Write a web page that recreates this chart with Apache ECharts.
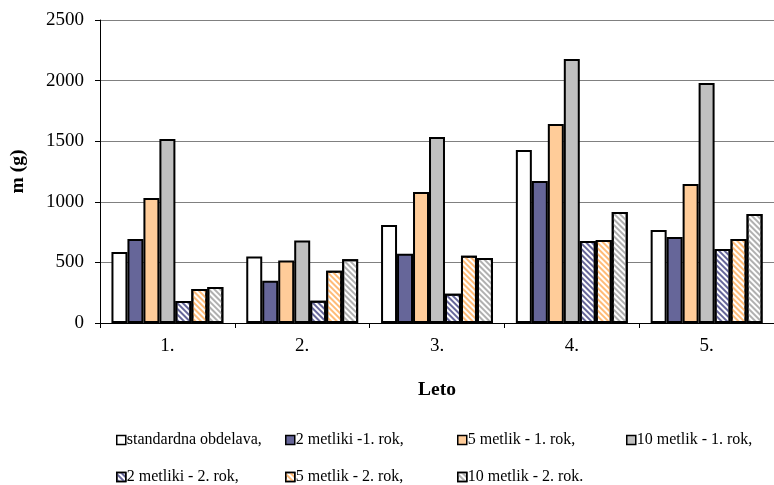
<!DOCTYPE html>
<html>
<head>
<meta charset="utf-8">
<script src="https://cdn.jsdelivr.net/npm/echarts@6/dist/echarts.min.js"></script>
<style>
  html, body { margin: 0; padding: 0; background: #fff; }
  #chart { width: 774px; height: 485px; }
</style>
</head>
<body>
<div id="chart"></div>
<script>
// Years of the trial
var categories = ['1.', '2.', '3.', '4.', '5.'];
var yTicks = [0, 500, 1000, 1500, 2000, 2500];

// Mass m (g) per treatment
var standardna = [586, 548, 808, 1427, 767];
var metliki2_r1 = [693, 349, 572, 1172, 710];
var metlik5_r1 = [1031, 516, 1081, 1642, 1147];
var metlik10_r1 = [1518, 680, 1535, 2178, 1980];
var metliki2_r2 = [181, 183, 242, 677, 610];
var metlik5_r2 = [280, 432, 555, 685, 693];
var metlik10_r2 = [297, 527, 536, 916, 899];

var seriesNames = [
  'standardna obdelava,', '2 metliki -1. rok,', '5 metlik - 1. rok,', '10 metlik - 1. rok,',
  '2 metliki - 2. rok,', '5 metlik - 2. rok,', '10 metlik - 2. rok.'
];
var seriesData = [standardna, metliki2_r1, metlik5_r1, metlik10_r1, metliki2_r2, metlik5_r2, metlik10_r2];
var fills = ['#ffffff', '#666699', '#ffcc99', '#c0c0c0', '#ffffff', '#ffffff', '#ffffff'];
var stripes = [null, null, null, null, '#666699', '#ffbb77', '#b0b0b0'];

function hatch(c) {
  return {
    symbol: 'rect',
    symbolSize: 1,
    color: c,
    dashArrayX: [1, 0],
    dashArrayY: [2, 2],
    rotation: Math.PI / 4
  };
}

var serif = 'Liberation Serif, Times New Roman, serif';

var series = seriesNames.map(function (name, i) {
  var style = { color: fills[i], borderColor: '#000', borderWidth: 2 };
  if (stripes[i]) style.decal = hatch(stripes[i]);
  return {
    name: name,
    type: 'bar',
    data: seriesData[i],
    barGap: '0%',
    barCategoryGap: '17%',
    itemStyle: style,
    emphasis: { disabled: true }
  };
});

// Legend layout: two rows, four columns
var legendCols = [111, 280, 452, 621];
var legendRows = [427, 464];
var legends = seriesNames.map(function (name, i) {
  return {
    data: [name],
    left: legendCols[i % 4],
    top: legendRows[Math.floor(i / 4)],
    itemWidth: 9,
    itemHeight: 9,
    icon: 'rect',
    selectedMode: false,
    itemStyle: { borderColor: '#000', borderWidth: 1.5 },
    textStyle: { fontFamily: serif, fontSize: 16, color: '#000', padding: [0, 0, 0, -4] }
  };
});

var chart = echarts.init(document.getElementById('chart'), null, { renderer: 'canvas' });
chart.setOption({
  animation: false,
  backgroundColor: '#fff',
  grid: { left: 100, top: 20, right: -8, bottom: 162, containLabel: false },
  legend: legends,
  xAxis: {
    type: 'category',
    data: categories,
    name: 'Leto',
    nameLocation: 'middle',
    nameGap: 57,
    nameTextStyle: { fontFamily: serif, fontSize: 19.5, fontWeight: 'bold', color: '#000' },
    axisLine: { lineStyle: { color: '#000', width: 1 } },
    axisTick: { show: true, length: 5, lineStyle: { color: '#000' } },
    axisLabel: { fontFamily: serif, fontSize: 19, color: '#000', margin: 14 }
  },
  yAxis: {
    type: 'value',
    min: yTicks[0],
    max: yTicks[yTicks.length - 1],
    interval: 500,
    name: 'm (g)',
    nameLocation: 'middle',
    nameGap: 72,
    nameRotate: 90,
    nameTextStyle: { fontFamily: serif, fontSize: 19.5, fontWeight: 'bold', color: '#000' },
    axisLine: { show: true, lineStyle: { color: '#000', width: 1 } },
    axisTick: { show: true, length: 5, inside: false, lineStyle: { color: '#000' } },
    axisLabel: {
      fontFamily: serif, fontSize: 19, color: '#000', margin: 16,
      formatter: function (v) { return String(v); }
    },
    splitLine: { show: true, lineStyle: { color: '#808080', width: 1.2 } }
  },
  series: series
});
</script>
</body>
</html>
